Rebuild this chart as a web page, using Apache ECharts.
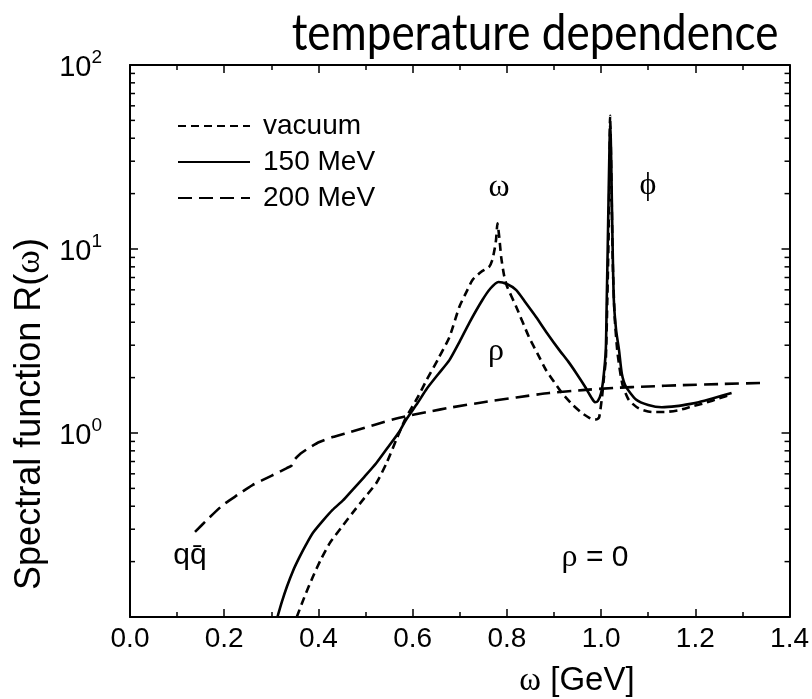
<!DOCTYPE html>
<html>
<head>
<meta charset="utf-8">
<script src="https://cdn.jsdelivr.net/npm/echarts@6/dist/echarts.min.js"></script>
<style>
html,body{margin:0;padding:0;background:#fff;}
#chart{width:812px;height:699px;}
</style>
</head>
<body>
<div id="chart"></div>
<script>
// ---- data ----
const seriesNames = ['vacuum', '150 MeV', '200 MeV'];
const xTicks = [0.0, 0.2, 0.4, 0.6, 0.8, 1.0, 1.2, 1.4];
const yTickExponents = [-1, 0, 1, 2];

const vacuumX = [0.354,0.370,0.388,0.405,0.424,0.448,0.472,0.498,0.523,0.545,0.565,0.585,0.610,0.630,0.655,0.678,0.699,0.715,0.727,0.745,0.762,0.769,0.774,0.777,0.780,0.784,0.788,0.794,0.800,0.820,0.847,0.865,0.883,0.900,0.917,0.940,0.960,0.975,0.985,0.992,0.996,1.002,1.006,1.010,1.013,1.016,1.018,1.019,1.020,1.022,1.025,1.029,1.035,1.045,1.059,1.080,1.108,1.135,1.165,1.195,1.222,1.250,1.277];
const vacuumY = [0.1,0.128,0.165,0.205,0.252,0.305,0.367,0.445,0.535,0.69,0.916,1.2,1.55,1.95,2.55,3.32,4.84,5.9,6.79,7.5,7.98,8.7,10.0,11.2,13.8,11.5,9.0,7.2,6.3,4.84,3.32,2.7,2.2,1.9,1.65,1.42,1.28,1.21,1.18,1.19,1.22,1.57,2.0,2.5,5.0,12,30,53,45,22,8,4.2,2.7,1.85,1.51,1.36,1.30,1.30,1.33,1.40,1.46,1.54,1.62];

const t150X = [0.313,0.322,0.333,0.346,0.360,0.374,0.388,0.410,0.430,0.452,0.472,0.498,0.523,0.548,0.572,0.585,0.610,0.630,0.655,0.678,0.700,0.720,0.748,0.765,0.782,0.800,0.820,0.840,0.862,0.885,0.911,0.930,0.947,0.965,0.980,0.987,0.993,1.000,1.005,1.010,1.012,1.014,1.016,1.018,1.019,1.0205,1.022,1.024,1.027,1.032,1.038,1.044,1.053,1.074,1.100,1.129,1.160,1.190,1.207,1.240,1.277];
const t150Y = [0.1,0.12,0.146,0.178,0.212,0.248,0.286,0.335,0.382,0.43,0.49,0.58,0.687,0.84,1.02,1.17,1.45,1.74,2.1,2.49,3.15,3.96,5.28,6.1,6.62,6.45,5.98,5.1,4.27,3.5,2.83,2.45,2.12,1.8,1.55,1.47,1.49,1.65,2.0,2.83,5.3,10,20,38,47,40,25,12,5.3,3.6,2.83,2.1,1.78,1.52,1.42,1.38,1.40,1.44,1.47,1.55,1.65];

const t200X = [0.138,0.165,0.197,0.228,0.260,0.300,0.333,0.343,0.350,0.360,0.380,0.402,0.430,0.466,0.520,0.572,0.630,0.684,0.750,0.820,0.890,0.960,1.031,1.100,1.171,1.250,1.341];
const t200Y = [0.29,0.34,0.406,0.46,0.521,0.585,0.645,0.665,0.72,0.765,0.83,0.893,0.95,1.01,1.11,1.21,1.30,1.38,1.47,1.56,1.65,1.71,1.76,1.79,1.82,1.845,1.87];

const annotations = [
  {text: 'ω', x: 499, y: 188},
  {text: 'ϕ', x: 648, y: 186},
  {text: 'ρ', x: 496, y: 352},
];

// ---- build ----
const zip = (xs, ys) => xs.map((x, i) => [x, ys[i]]);
const minorY = [];
yTickExponents.slice(0, -1).forEach(e => { for (let m = 2; m <= 9; m++) minorY.push(m * Math.pow(10, e)); });

const SANS = '"Liberation Sans", Arial, Helvetica, sans-serif';
const SERIF = '"Liberation Serif", "DejaVu Serif", serif';
const LW = 2.6;

const chart = echarts.init(document.getElementById('chart'), null, {renderer: 'canvas'});

const commonX = {
  type: 'value', min: xTicks[0], max: xTicks[xTicks.length - 1], interval: 0.2,
  axisLine: {show: true, onZero: false, lineStyle: {color: '#000', width: 2}},
  axisTick: {show: true, inside: true, length: 8, lineStyle: {color: '#000', width: 1.5}},
  minorTick: {show: true, splitNumber: 2, length: 5, lineStyle: {color: '#000', width: 1.5}},
  splitLine: {show: false}, minorSplitLine: {show: false}
};
const commonY = {
  type: 'log', logBase: 10, min: Math.pow(10, yTickExponents[0]), max: Math.pow(10, yTickExponents[yTickExponents.length - 1]),
  axisLine: {show: true, onZero: false, lineStyle: {color: '#000', width: 2}},
  axisTick: {show: true, inside: true, length: 8, lineStyle: {color: '#000', width: 1.5}},
  splitLine: {show: false}
};

const lineSeries = (name, xs, ys, type) => ({
  name, type: 'line', data: zip(xs, ys), showSymbol: false, symbol: 'none',
  smooth: 0.2,
  lineStyle: {color: '#000', width: LW, type, join: 'round'}, itemStyle: {color: '#000'}, z: 3, clip: true
});

const option = {
  backgroundColor: '#fff',
  animation: false,
  grid: {left: 130, right: 21, top: 65, bottom: 82},
  legend: {
    orient: 'vertical', left: 172, top: 107,
    data: seriesNames,
    itemWidth: 72, itemHeight: 20, itemGap: 8,
    itemStyle: {opacity: 0},
    textStyle: {fontFamily: SANS, fontSize: 28, color: '#000', lineHeight: 28, padding: [0, 0, 0, 8]},
    selectedMode: false
  },
  xAxis: [
    Object.assign({}, commonX, {
      position: 'bottom',
      axisLabel: {show: true, margin: 8, fontFamily: SANS, fontSize: 28, color: '#000', formatter: v => v.toFixed(1)}
    }),
    Object.assign({}, commonX, {position: 'top', axisLabel: {show: false}})
  ],
  yAxis: [
    Object.assign({}, commonY, {
      position: 'left',
      axisLabel: {
        show: true, margin: 28, color: '#000',
        formatter: v => { const e = Math.round(Math.log10(v)); return e === yTickExponents[0] ? '' : '{b|10}{s|' + e + '}'; },
        rich: {
          b: {fontFamily: SANS, fontSize: 29, color: '#000', lineHeight: 34, verticalAlign: 'bottom'},
          s: {fontFamily: SANS, fontSize: 19, color: '#000', lineHeight: 34, verticalAlign: 'top'}
        }
      }
    }),
    Object.assign({}, commonY, {position: 'right', axisLabel: {show: false}})
  ],
  series: [
    lineSeries(seriesNames[0], vacuumX, vacuumY, [8, 5]),
    lineSeries(seriesNames[1], t150X, t150Y, 'solid'),
    lineSeries(seriesNames[2], t200X, t200Y, [14, 7]),
    {
      name: 'minorTicksY', type: 'custom', xAxisIndex: 0, yAxisIndex: 0, silent: true, z: 5,
      data: minorY.map(v => [xTicks[0], v]),
      renderItem: function (params, api) {
        const v = api.value(1);
        const pl = api.coord([xTicks[0], v]);
        const pr = api.coord([xTicks[xTicks.length - 1], v]);
        const st = {stroke: '#000', lineWidth: 1.5};
        return {type: 'group', children: [
          {type: 'line', shape: {x1: pl[0], y1: pl[1], x2: pl[0] + 5, y2: pl[1]}, style: st},
          {type: 'line', shape: {x1: pr[0], y1: pr[1], x2: pr[0] - 5, y2: pr[1]}, style: st}
        ]};
      }
    }
  ]
};

const graphics = [];
// title (slightly stretched vertically like the reference)
graphics.push({
  type: 'text', x: 535, y: 34, scaleY: 1.15, silent: true,
  style: {text: 'temperature dependence', fontFamily: 'Lato, "Open Sans", sans-serif', fontSize: 44, fill: '#000',
          textAlign: 'center', textVerticalAlign: 'middle'}
});
annotations.forEach(a => graphics.push({
  type: 'text', x: a.x, y: a.y, silent: true,
  style: {text: a.text, fontFamily: SERIF, fontSize: 32, fill: '#000', textAlign: 'center', textVerticalAlign: 'middle'}
}));
// q q-bar
graphics.push({
  type: 'text', x: 190, y: 556, silent: true,
  style: {text: 'qq\u0304', fontFamily: SANS, fontSize: 30, fill: '#000', textAlign: 'center', textVerticalAlign: 'middle'}
});
// rho = 0
graphics.push({
  type: 'text', x: 595, y: 558, silent: true,
  style: {
    text: '{g|ρ}{t| = 0}', textAlign: 'center', textVerticalAlign: 'middle',
    rich: {g: {fontFamily: SERIF, fontSize: 32, fill: '#000'}, t: {fontFamily: SANS, fontSize: 30, fill: '#000'}}
  }
});
// x axis name
graphics.push({
  type: 'text', x: 577, y: 681, silent: true,
  style: {
    text: '{g|ω}{t| [GeV]}', textAlign: 'center', textVerticalAlign: 'middle',
    rich: {g: {fontFamily: SERIF, fontSize: 33, fill: '#000'}, t: {fontFamily: SANS, fontSize: 33, fill: '#000'}}
  }
});
// y axis name
graphics.push({
  type: 'text', x: 30, y: 414, rotation: Math.PI / 2, silent: true,
  style: {
    text: '{t|Spectral function R(}{g|ω}{t|)}', textAlign: 'center', textVerticalAlign: 'middle',
    rich: {g: {fontFamily: SERIF, fontSize: 36, fill: '#000'}, t: {fontFamily: SANS, fontSize: 36, fill: '#000'}}
  }
});
option.graphic = graphics;

chart.setOption(option);
</script>
</body>
</html>
